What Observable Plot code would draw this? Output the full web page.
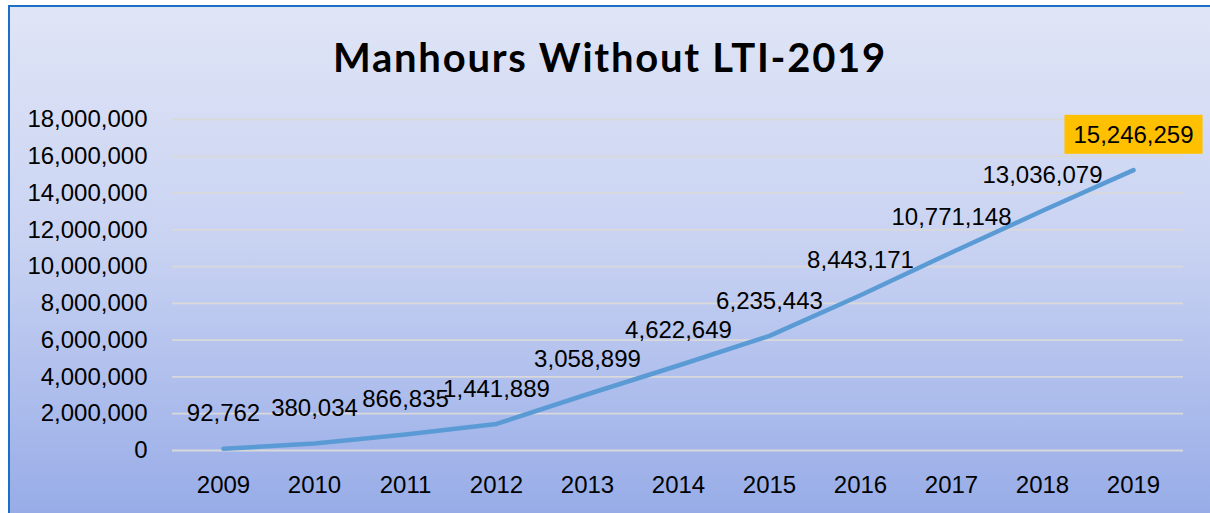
<!DOCTYPE html>
<html>
<head>
<meta charset="utf-8">
<script src="https://cdn.jsdelivr.net/npm/d3@7"></script>
<script src="https://cdn.jsdelivr.net/npm/@observablehq/plot@0.6"></script>
<style>
  html, body { margin: 0; padding: 0; background: #ffffff; width: 1210px; height: 513px; overflow: hidden; }
  #frame {
    position: absolute; left: 8px; top: 5px; width: 1220px; height: 520px;
    border-top: 2px solid #1c6fc6; border-left: 2px solid #1c6fc6;
    background: linear-gradient(to bottom, #e0e5f6 0%, #c9d3f2 45%, #95aae7 100%);
  }
  #title {
    position: absolute; left: 0; width: 1220px; top: 33px; text-align: center;
    font-family: Lato, "Liberation Sans", Arial, sans-serif; font-weight: bold; font-size: 40px;
    letter-spacing: 0px; color: #000; line-height: 48px;
  }
  #chart { position: absolute; left: 0; top: 0; }
</style>
</head>
<body>
<div id="frame"></div>
<div id="title"><span id="tt">Manhours Without LTI-2019</span></div>
<div id="chart"></div>
<script>
// ---- data ----
const years = ["2009", "2010", "2011", "2012", "2013", "2014", "2015", "2016", "2017", "2018", "2019"];
const manhours = [92762, 380034, 866835, 1441889, 3058899, 4622649, 6235443, 8443171, 10771148, 13036079, 15246259];
const yTicks = [0, 2000000, 4000000, 6000000, 8000000, 10000000, 12000000, 14000000, 16000000, 18000000];
const highlightYear = "2019";

// ---- style ----
const lineColor = "#5b9bd5";
const gridColor = "#d9d9d9";
const highlightFill = "#ffc000";

const data = years.map((year, i) => ({year, value: manhours[i]}));
const fmt = d3.format(",");

const plot = Plot.plot({
  width: 1210,
  height: 513,
  marginLeft: 172,
  marginRight: 27,
  marginTop: 119,
  marginBottom: 63,
  style: {background: "transparent", fontFamily: "'Liberation Sans', Arial, sans-serif", fontSize: "24px", color: "#000", overflow: "visible"},
  x: {type: "point", domain: years, padding: 0.5, label: null},
  y: {domain: [0, 18000000], label: null},
  marks: [
    Plot.gridY(yTicks, {stroke: gridColor, strokeOpacity: 1, strokeWidth: 1.8}),
    Plot.axisY(yTicks, {tickSize: 0, tickPadding: 25, tickFormat: fmt, label: null, fontSize: 24, fill: "#000"}),
    Plot.axisX(years, {tickSize: 0, tickPadding: 25, label: null, fontSize: 24, fill: "#000"}),
    Plot.line(data, {x: "year", y: "value", stroke: lineColor, strokeWidth: 4.5, strokeLinecap: "round", strokeLinejoin: "round"}),
    Plot.text(data, {x: "year", y: "value", text: d => fmt(d.value), dy: -35, fontSize: 24, fill: "#000"})
  ]
});

document.getElementById("chart").appendChild(plot);

// fit title to the reference width (~554px)
const tt = document.getElementById("tt");
const w = tt.getBoundingClientRect().width;
const chars = tt.textContent.length;
document.getElementById("title").style.letterSpacing = ((554 - w) / chars) + "px";

// orange background box behind the highlighted value label
const hv = fmt(manhours[years.indexOf(highlightYear)]);
d3.select(plot).selectAll("text").filter(function () { return this.textContent === hv && !this.closest("[aria-label*='axis']"); })
  .each(function () {
    const b = this.getBBox();
    const padX = 9, padY = 6;
    const r = document.createElementNS("http://www.w3.org/2000/svg", "rect");
    r.setAttribute("x", b.x - padX);
    r.setAttribute("y", b.y - padY);
    r.setAttribute("width", b.width + 2 * padX);
    r.setAttribute("height", b.height + 2 * padY);
    r.setAttribute("fill", highlightFill);
    const t = this.getAttribute("transform");
    if (t) r.setAttribute("transform", t);
    this.parentNode.insertBefore(r, this);
  });
</script>
</body>
</html>
